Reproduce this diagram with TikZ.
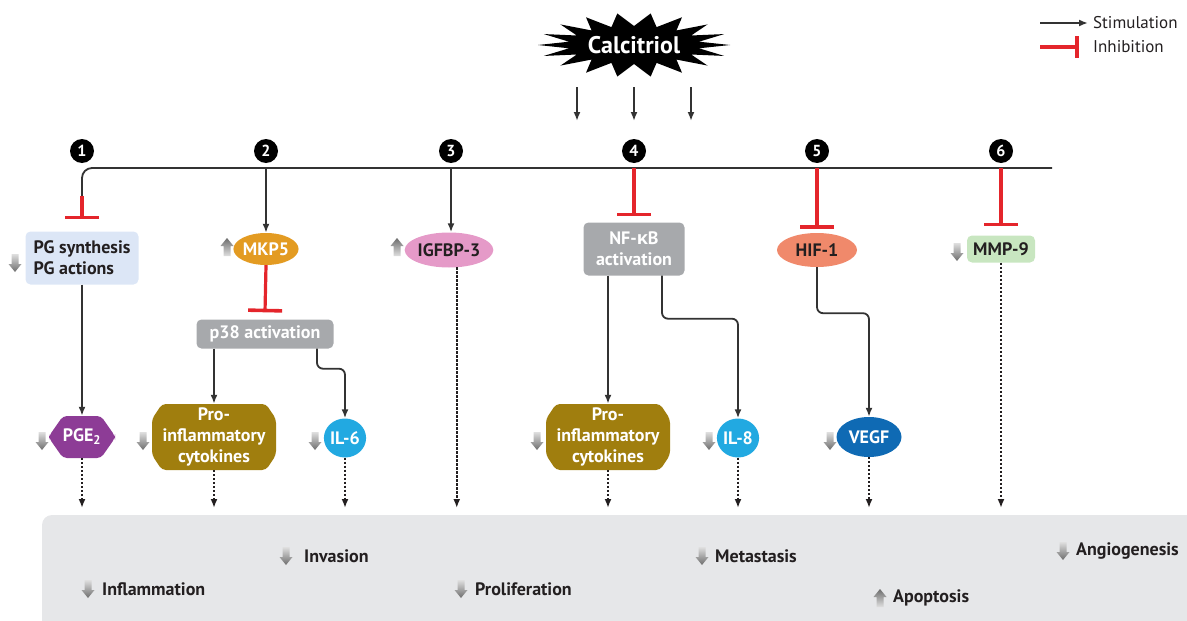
\documentclass[tikz,border=0pt]{standalone}
\usepackage{fontspec}
\setmainfont{PT Sans}
\newfontfamily\grk{Open Sans}
\usetikzlibrary{arrows.meta,shapes.geometric}
\tikzset{>={Latex[length=9pt,width=7pt]}}
\definecolor{ink}{HTML}{231F20}
\definecolor{wire}{HTML}{333333}
\definecolor{inhred}{HTML}{E4252B}
\definecolor{panel}{HTML}{E6E7E9}
\definecolor{pgblue}{HTML}{DCE6F6}
\definecolor{mkporange}{HTML}{E39B22}
\definecolor{igfpink}{HTML}{E59AC8}
\definecolor{actgrey}{HTML}{A7A9AC}
\definecolor{hifsalmon}{HTML}{F0896B}
\definecolor{mmpgreen}{HTML}{C8E6C0}
\definecolor{pgepurple}{HTML}{8D3C96}
\definecolor{cytolive}{HTML}{A07E0E}
\definecolor{ilcyan}{HTML}{22A9E1}
\definecolor{vegfblue}{HTML}{0F6AB4}
\newcommand*{\lbl}{\fontsize{18}{21}\selectfont\bfseries}
% x, y, half width, half height, chamfer x, chamfer y, colour
\newcommand*{\hexfill}[7]{%
  \fill[#7, rounded corners=4pt] (#1-#3+#5,#2-#4) -- (#1+#3-#5,#2-#4) -- (#1+#3,#2-#4+#6)
    -- (#1+#3,#2+#4-#6) -- (#1+#3-#5,#2+#4) -- (#1-#3+#5,#2+#4) -- (#1-#3,#2+#4-#6)
    -- (#1-#3,#2-#4+#6) -- cycle;}
\tikzset{
  box/.style={rounded corners=5pt, align=center, font=\lbl, inner sep=0pt},
  oval/.style={ellipse, font=\lbl, inner sep=0pt},
  plain/.style={font=\lbl, align=center, inner sep=0pt},
  num/.style={circle, fill=black, text=white, minimum size=24pt, inner sep=0pt,
    font=\fontsize{16}{16}\selectfont\bfseries},
  stim/.style={->, line width=1.8pt, draw=wire},
  inh/.style={-{Bar[width=34pt,line width=3.6pt]}, line width=3.2pt, draw=inhred},
  dotarr/.style={->, line width=2.4pt, draw=ink, dash pattern=on 2.2pt off 1.8pt},
  effect/.style={font=\lbl, text=ink, anchor=west, inner sep=0pt},
  legend/.style={font=\fontsize{17}{17}\selectfont, text=ink, anchor=west, inner sep=0pt},
  dnarr/.pic={\shade[top color=gray!25, bottom color=gray!85!black]
    (-3.5,-9) -- (3.5,-9) -- (3.5,1) -- (6.5,1) -- (0,9) -- (-6.5,1) -- (-3.5,1) -- cycle;},
  uparr/.pic={\shade[top color=gray!85!black, bottom color=gray!25]
    (-3.5,9) -- (3.5,9) -- (3.5,-1) -- (6.5,-1) -- (0,-9) -- (-6.5,-1) -- (-3.5,-1) -- cycle;}
}

\begin{document}
\begin{tikzpicture}[x=1pt, y=-1pt]
    \clip (0,0) rectangle (1187,621);
    \fill[panel, rounded corners=10pt] (42,515) rectangle (1220,650);

    \fill[black] plot[samples at={0,10,...,350}]
        ({634+(66+30*(1-mod(\x,20)/10))*cos(\x)}, {45+(19+13*(1-mod(\x,20)/10))*sin(\x)}) -- cycle;
    \node[text=white, font=\fontsize{24}{24}\selectfont\bfseries] (calc) at (634,45) {Calcitriol};
    \foreach \x [count=\i] in {577,634,691}{
        \coordinate (s\i) at (\x,87);
        \coordinate (t\i) at (\x,121);
        \draw[stim] (s\i) -- (t\i);
    }

    \coordinate (ls) at (1040,23);
    \coordinate (le) at (1088,23);
    \draw[stim] (ls) -- (le);
    \node[legend] (lstim) at (1093,23) {Stimulation};
    \coordinate (li) at (1040,47);
    \coordinate (lj) at (1079,47);
    \draw[inhred, line width=3.2pt, -{Bar[width=22pt,line width=3.6pt]}] (li) -- (lj);
    \node[legend] (linh) at (1093,47) {Inhibition};

    \foreach \x [count=\i] in {82,266,451,634,817,1001}{
        \coordinate (b\i) at (\x,168);
        \node[num] (n\i) at (\x,151) {\i};
    }
    \coordinate (bend) at (1052,168);
    \coordinate (turn) at (82,196);

    \node[box, fill=pgblue, text=ink, align=left, minimum width=113pt, minimum height=53pt] (pg) at (82,258) {PG synthesis\\PG actions};
    \node[oval, fill=mkporange, text=white, minimum width=62pt, minimum height=32pt] (mkp) at (266,249) {MKP5};
    \node[oval, fill=igfpink, text=ink, minimum width=88pt, minimum height=35pt] (igf) at (449,250) {IGFBP-3};
    \node[box, fill=actgrey, text=white, minimum width=101pt, minimum height=53pt] (nfkb) at (634,249) {NF-{\grk κ}B\\activation};
    \node[oval, fill=hifsalmon, text=ink, minimum width=80pt, minimum height=34pt] (hif) at (817,250) {HIF-1};
    \node[box, fill=mmpgreen, text=ink, minimum width=68pt, minimum height=27pt] (mmp) at (1001,249) {MMP-9};
    \node[box, fill=actgrey, text=white, minimum width=137pt, minimum height=29pt] (p38) at (265,334) {p38 activation};

    \hexfill{82}{437}{33}{21}{14}{20}{pgepurple}
    \node[plain, text=white, minimum width=66pt, minimum height=42pt] (pge) at (82,437) {PGE\textsubscript{2}};
    \hexfill{214}{437}{62}{33}{10}{15}{cytolive}
    \node[plain, text=white, minimum width=124pt, minimum height=66pt] (cyto1) at (214,437) {Pro-\\inflammatory\\cytokines};
    \node[oval, fill=ilcyan, text=white, minimum width=40pt, minimum height=39pt] (il6) at (345,438) {IL-6};
    \hexfill{608}{437}{62}{33}{10}{15}{cytolive}
    \node[plain, text=white, minimum width=124pt, minimum height=66pt] (cyto2) at (608,437) {Pro-\\inflammatory\\cytokines};
    \node[oval, fill=ilcyan, text=white, minimum width=40pt, minimum height=39pt] (il8) at (738,438) {IL-8};
    \node[oval, fill=vegfblue, text=white, minimum width=65pt, minimum height=40pt] (vegf) at (869,437) {VEGF};

    \draw[wire, line width=1.8pt, rounded corners=10pt] (bend) -- (b1) -- (turn);
    \draw[inh] (turn) -- ([yshift=12pt]pg.north);
    \draw[stim] (b2) -- (b2 |- mkp.north);
    \draw[stim] (b3) -- (b3 |- igf.north);
    \draw[inh] (b4) -- ([yshift=6pt]nfkb.north);
    \draw[inh] (b5) -- ([yshift=4pt]hif.north);
    \draw[inh] (b6) -- ([yshift=9pt]mmp.north);
    \draw[inh] (mkp.south) -- ([yshift=7pt]p38.north);
    \draw[stim] (pg.south) -- (pge.north);
    \draw[stim] ([xshift=-51pt]p38.south) -- (cyto1.north);
    \draw[stim, rounded corners=6pt] ([xshift=52pt]p38.south) -- ++(0,20) -| (il6.north);
    \draw[stim] ([xshift=-26pt]nfkb.south) -- (cyto2.north);
    \draw[stim, rounded corners=6pt] ([xshift=28pt]nfkb.south) -- ++(0,43) -| (il8.north);
    \draw[stim, rounded corners=6pt] (hif.south) -- ++(0,46) -| (vegf.north);

    \coordinate (floor) at (0,508);
    \foreach \n in {pge,cyto1,il6,cyto2,il8,vegf,mmp}
        \draw[dotarr] (\n.south) -- (\n.south |- floor);
    \draw[dotarr] (igf.-66) -- (igf.-66 |- floor);

    \pic at (15,263) {dnarr};
    \pic at (227,247) {uparr};
    \pic at (397,247) {uparr};
    \pic at (957,252) {dnarr};
    \foreach \x in {42,143,315,537,709,830}
        \pic at (\x,441) {dnarr};

    \pic at (88,589) {dnarr};
    \node[effect] (inflam) at (102,589) {Inflammation};
    \pic at (286,556) {dnarr};
    \node[effect] (invas) at (304,556) {Invasion};
    \pic at (461,589) {dnarr};
    \node[effect] (prolif) at (475,589) {Proliferation};
    \pic at (702,556) {dnarr};
    \node[effect] (metas) at (715,556) {Metastasis};
    \pic at (880,598) {uparr};
    \node[effect] (apopt) at (893,598) {Apoptosis};
    \pic at (1063,551) {dnarr};
    \node[effect] (angio) at (1076,551) {Angiogenesis};
\end{tikzpicture}
\end{document}
